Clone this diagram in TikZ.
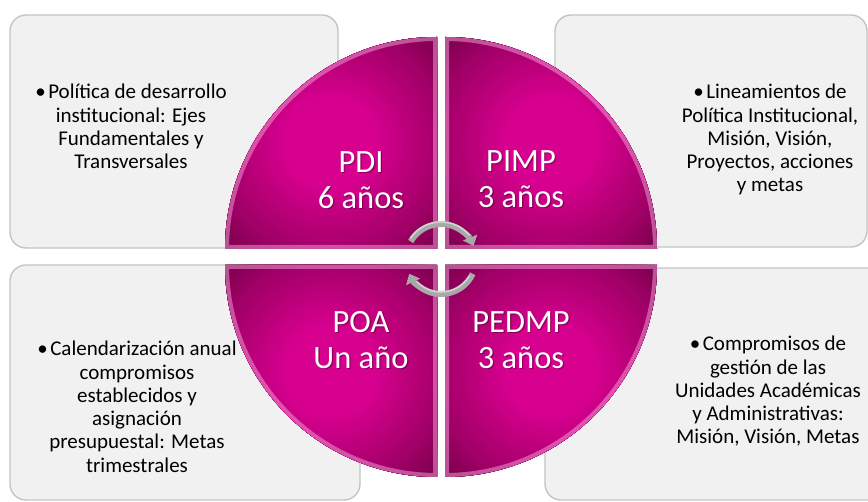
\documentclass[tikz,border=0pt]{standalone}
\usepackage{fontspec}
\setmainfont{Carlito}
\usetikzlibrary{arrows.meta}
\definecolor{boxfill}{HTML}{F1F1F1}
\definecolor{boxline}{HTML}{C4C4C4}
\definecolor{mgbright}{HTML}{D8008F}
\definecolor{mgmid}{HTML}{A00066}
\definecolor{mgdark}{HTML}{62003A}
\definecolor{bevelpink}{HTML}{F2A6DA}
\definecolor{arrowgray}{HTML}{A8A8A8}
\newcommand{\bul}{•\kern2.5pt}
\tikzset{
  infobox/.style={fill=boxfill, draw=boxline, line width=1.4pt, rounded corners=16pt},
  boxtext/.style={font=\fontsize{21}{23.3}\selectfont, align=center, anchor=north, inner sep=0pt, text=black},
  circtext/.style={font=\fontsize{32.5}{36}\selectfont, align=center, anchor=north, inner sep=0pt, text=white},
  shadowtext/.style={circtext, text=black, text opacity=0.35},
  cycarrow/.style={draw=arrowgray, line width=6pt, -{Triangle[width=15pt,length=9pt]}},
  cycshine/.style={draw=white, line width=1.6pt, opacity=0.5}
}
\begin{document}
\begin{tikzpicture}[x=1pt,y=1pt]
\useasboundingbox (0,0) rectangle (868,502);
\clip (0,0) rectangle (868,502);
\fill[white] (0,0) rectangle (868,502);
% side boxes
\path[infobox] (10,254) rectangle (338,487);
\path[infobox] (555,255) rectangle (867,487);
\path[infobox] (10,2) rectangle (360,237);
\path[infobox] (545,2) rectangle (885,234);
% quadrants
\foreach \cx/\cy/\s in {437/253/180, 445/253/90, 445/237/0, 437/237/270} {
  \begin{scope}
    \clip (\cx,\cy) -- ++(\s:212) arc[start angle=\s, end angle=\s-90, radius=212] -- cycle;
    \fill[mgdark] (\cx-230,\cy-230) rectangle (\cx+230,\cy+230);
    \begin{scope}[shift={(\s-45:150)}]
      \foreach \i in {0,...,32} {
        \pgfmathsetmacro\t{1-\i/32}
        \pgfmathsetmacro\pA{max(0,min(100,(1-\t)/0.34*100))}
        \pgfmathsetmacro\pB{max(0,min(100,(0.66-\t)/0.40*100))}
        \fill[color=mgbright!\pB!mgmid!\pA!mgdark] (\cx,\cy) circle[radius=175*\t+0.5];
      }
    \end{scope}
    \draw[bevelpink, line width=8pt, opacity=0.5] (\cx,\cy) -- ++(\s:212) arc[start angle=\s, end angle=\s-90, radius=212] -- cycle;
  \end{scope}
}
% cycle arrows
\coordinate (ctr) at (441,243);
\draw[cycarrow] (ctr) ++(150:35) arc[start angle=150, end angle=22, radius=35];
\draw[cycshine] (ctr) ++(146:37) arc[start angle=146, end angle=40, radius=37];
\draw[cycarrow] (ctr) ++(-25:35) arc[start angle=-25, end angle=-155, radius=35];
\draw[cycshine] (ctr) ++(-30:33) arc[start angle=-30, end angle=-138, radius=33];
% box texts
\node[boxtext] (tA) at (131,418) {\bul Política de desarrollo\\institucional: Ejes\\Fundamentales y\\Transversales};
\node[boxtext] (tB) at (770,418) {\bul Lineamientos de\\Política Institucional,\\Misión, Visión,\\Proyectos, acciones\\y metas};
\node[boxtext] (tC) at (137,161) {\bul Calendarización anual\\compromisos\\establecidos y\\asignación\\presupuestal: Metas\\trimestrales};
\node[boxtext] (tD) at (768,166) {\bul Compromisos de\\gestión de las\\Unidades Académicas\\y Administrativas:\\Misión, Visión, Metas};
% circle texts
\node[shadowtext] (sA) at (362.2,349.8) {PDI\\6 años};
\node[circtext] (cA) at (361,351) {PDI\\6 años};
\node[shadowtext] (sB) at (522.2,350.8) {PIMP\\3 años};
\node[circtext] (cB) at (521,352) {PIMP\\3 años};
\node[shadowtext] (sC) at (362.2,189.8) {POA\\Un año};
\node[circtext] (cC) at (361,191) {POA\\Un año};
\node[shadowtext] (sD) at (522.2,189.8) {PEDMP\\3 años};
\node[circtext] (cD) at (521,191) {PEDMP\\3 años};
\end{tikzpicture}
\end{document}
